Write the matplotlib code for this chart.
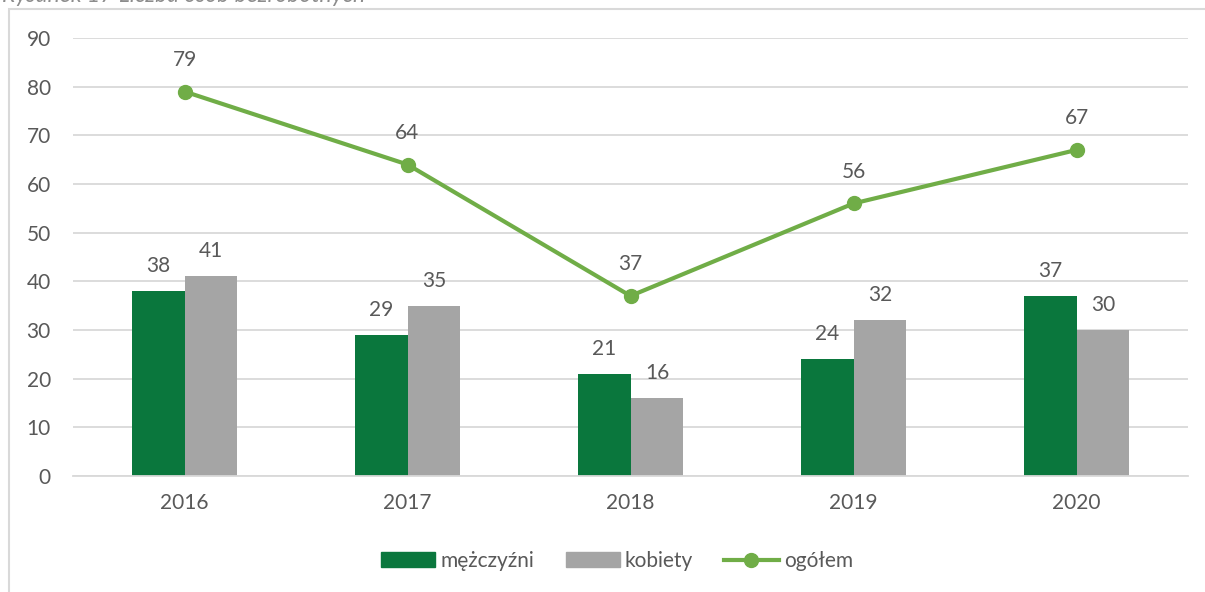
import matplotlib
matplotlib.use("Agg")
import matplotlib.pyplot as plt
from matplotlib.patches import Rectangle
from matplotlib.lines import Line2D
import numpy as np

years = ["2016", "2017", "2018", "2019", "2020"]
men = [38, 29, 21, 24, 37]
women = [41, 35, 16, 32, 30]
total = [79, 64, 37, 56, 67]
yticks = [0, 10, 20, 30, 40, 50, 60, 70, 80, 90]

GREEN = "#0A773D"
GRAY = "#A5A5A5"
LGREEN = "#70AD47"
TXT = "#595959"
GRID = "#D9D9D9"

plt.rcParams['font.family'] = ['Lato', 'DejaVu Sans']

fig = plt.figure(figsize=(12.05, 5.92), dpi=100)
W, H = 1205, 592
ax = fig.add_axes([73 / W, 1 - 476 / H, (1188 - 73) / W, (476 - 38) / H])

x = np.arange(len(years))
bw = 0.237
ax.bar(x - bw / 2, men, bw, color=GREEN, zorder=2, label="mężczyźni")
ax.bar(x + bw / 2, women, bw, color=GRAY, zorder=2, label="kobiety")
ax.plot(x, total, color=LGREEN, lw=3, marker="o", ms=10, zorder=3, label="ogółem")

fs = 15
for xi, v in zip(x, men):
    ax.annotate(str(v), (xi - bw / 2, v), xytext=(0, 18), textcoords="offset points",
                ha="center", va="center", fontsize=fs, color=TXT)
for xi, v in zip(x, women):
    ax.annotate(str(v), (xi + bw / 2, v), xytext=(0, 18), textcoords="offset points",
                ha="center", va="center", fontsize=fs, color=TXT)
for xi, v in zip(x, total):
    ax.annotate(str(v), (xi, v), xytext=(0, 23), textcoords="offset points",
                ha="center", va="center", fontsize=fs, color=TXT)

ax.set_xlim(-0.5, len(years) - 0.5)
ax.set_ylim(0, 90)
ax.set_yticks(yticks)
ax.set_yticklabels([str(t) for t in yticks])
ax.set_xticks(x)
ax.set_xticklabels(years)
ax.tick_params(axis="both", length=0, labelsize=fs, colors=TXT)
ax.tick_params(axis="y", pad=16)
ax.tick_params(axis="x", pad=12)
ax.yaxis.grid(True, color=GRID, lw=1.3, zorder=0)
ax.set_axisbelow(True)
for s in ["top", "right", "left"]:
    ax.spines[s].set_visible(False)
ax.spines["bottom"].set_color(GRID)
ax.spines["bottom"].set_linewidth(1.3)

handles = [
    Rectangle((0, 0), 1, 1, color=GREEN),
    Rectangle((0, 0), 1, 1, color=GRAY),
    Line2D([0], [0], color=LGREEN, lw=3, marker="o", ms=10),
]
fig.legend(handles, ["mężczyźni", "kobiety", "ogółem"], loc="center",
           bbox_to_anchor=(617 / W, 1 - 561 / H), ncol=3, frameon=False,
           fontsize=fs, labelcolor=TXT, handlelength=2.6, handleheight=0.7,
           handletextpad=0.25, columnspacing=1.5)

# chart border
fig.patches.append(Rectangle((8.5 / W, -0.1), 1.2, 1 - 8.5 / H + 0.1,
                             transform=fig.transFigure, fill=False,
                             edgecolor=GRID, lw=1.5))
# caption (cut off at the top edge, as in the reference)
fig.text(2 / W, 1 - 2 / H, "Rysunek 17 Liczba osób bezrobotnych", ha="left",
         va="baseline", fontsize=16.5, style="italic", color="#8C8C8C")

fig.savefig("out.png", dpi=100)
